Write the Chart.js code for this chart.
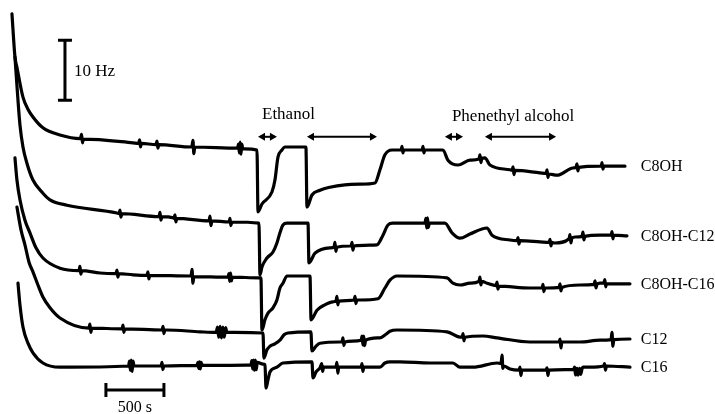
<!DOCTYPE html>
<html>
<head>
<meta charset="utf-8">
<script src="https://cdn.jsdelivr.net/npm/chart.js@4/dist/chart.umd.min.js"></script>
<style>
  body { margin: 0; background: #fff; }
  canvas { display: block; }
</style>
</head>
<body>
<canvas id="qcmChart" width="715" height="414"></canvas>
<script>
// time in s, frequency in Hz (traces stacked, axes hidden)
const traceNames = ["C8OH", "C8OH-C12", "C8OH-C16", "C12", "C16"];

const c8oh = [[0,66.7],[26,59.5],[43,57.8],[95,52.8],[138,50.8],[181,49.5],[267,47.7],[414,46.5],
  [590,45.9],[600,46.6],[608,45.2],[616,45.8],[1043,45.2],
  [1092,45.1],[1100,45.7],[1108,44.5],[1116,45.1],
  [1242,44.9],[1250,45.5],[1258,44.3],[1266,44.9],
  [1550,44.5],[1560,45.6],[1568,43.4],[1576,44.5],
  [1945,44.3],[1953,45.0],[1960,43.5],[1967,45.3],[1974,43.3],[1981,45.0],[1990,44.2],
  [2112,44.0],[2121,33.7],[2155,35.0],[2241,37.0],[2267,39.0],[2293,42.8],[2327,44.0],[2353,44.5],
  [2534,44.5],[2543,34.5],[2586,36.5],[2655,37.3],[2741,37.8],[2870,38.2],[3000,38.3],[3129,38.5],
  [3172,40.7],[3215,43.2],[3276,44.0],
  [3354,44.0],[3362,44.6],[3370,43.5],[3378,44.0],
  [3535,44.0],[3543,44.6],[3551,43.5],[3559,44.0],
  [3715,44.0],[3758,42.3],[3845,41.5],[3948,42.3],
  [4026,42.5],[4034,43.2],[4042,41.9],[4050,42.6],
  [4077,42.7],[4120,41.5],[4293,40.7],
  [4311,40.6],[4319,41.2],[4327,39.9],[4335,40.6],
  [4551,40.2],
  [4604,40.1],[4612,40.7],[4620,39.4],[4628,40.0],
  [4698,39.8],[4836,41.0],
  [4862,41.1],[4870,41.7],[4878,40.5],[4886,41.1],
  [5069,41.3],
  [5078,41.3],[5086,41.9],[5094,40.8],[5102,41.3],
  [5284,41.3]];

const c8ohC12 = [[26,59.5],[52,52.3],[69,48.2],[95,44.5],[129,41.8],[181,39.0],[267,36.8],[328,35.7],[474,34.8],[905,33.5],
  [923,33.4],[931,34.0],[939,32.8],[947,33.4],
  [1268,32.9],[1276,33.6],[1284,32.3],[1292,32.9],
  [1388,32.7],
  [1397,32.6],[1405,33.2],[1413,32.0],[1421,32.6],
  [1699,32.2],[1707,33.0],[1715,31.4],[1723,32.2],
  [1871,32.0],[1879,32.6],[1887,31.4],[1895,32.0],
  [2129,31.8],[2138,23.2],[2155,24.5],[2198,26.0],[2250,27.0],[2284,28.5],[2310,30.2],[2336,31.5],[2371,31.8],
  [2552,31.8],[2560,25.2],[2612,26.8],[2741,27.7],
  [2776,27.8],[2784,28.6],[2792,27.1],[2800,27.8],
  [2914,28.0],
  [2923,28.0],[2931,28.6],[2939,27.3],[2947,28.0],
  [3146,28.2],[3198,29.8],[3241,31.5],[3284,31.8],
  [3560,31.8],[3568,32.6],[3575,31.0],[3582,32.7],[3589,31.1],[3598,31.8],
  [3732,31.8],[3793,30.2],[3862,29.3],[3948,30.0],[4095,31.0],[4138,29.8],[4293,29.0],
  [4354,28.9],[4362,29.4],[4370,28.3],[4378,28.9],
  [4551,28.7],
  [4630,28.6],[4638,29.1],[4646,28.0],[4654,28.6],
  [4681,28.5],
  [4802,29.2],[4810,29.9],[4818,28.5],[4826,29.3],
  [4853,29.5],
  [4914,29.6],[4922,30.3],[4930,29.0],[4938,29.6],
  [5069,29.8],
  [5164,29.8],[5172,30.4],[5180,29.2],[5188,29.8],
  [5301,29.7]];

const c8ohC16 = [[26,42.7],[43,39.0],[69,35.7],[112,32.3],[155,30.2],[207,27.7],[267,26.0],[414,24.3],
  [578,23.9],[586,24.6],[594,23.3],[602,23.9],
  [759,23.5],
  [897,23.4],[905,24.0],[913,22.8],[921,23.4],
  [1043,23.2],
  [1164,23.1],[1172,23.7],[1180,22.5],[1188,23.1],
  [1544,23.0],[1552,24.1],[1560,21.8],[1568,22.9],
  [1862,22.8],[1870,23.4],[1877,22.1],[1884,23.5],[1892,22.2],[1900,22.8],
  [2129,22.7],[2146,22.7],[2155,14.0],[2181,15.7],[2207,16.8],[2250,17.7],[2284,19.0],[2310,21.0],[2336,21.8],[2371,23.0],
  [2569,23.0],[2578,15.7],[2629,17.3],[2698,18.2],[2767,18.7],
  [2793,18.8],[2801,19.6],[2809,18.2],[2817,18.8],
  [2949,19.0],[2957,19.6],[2965,18.4],[2973,19.0],
  [3000,19.0],[3155,19.2],[3215,21.0],[3258,22.3],[3319,23.0],[3750,22.7],[3801,21.8],[3862,21.5],[3948,21.8],
  [4026,22.1],[4034,22.8],[4042,21.5],[4050,22.1],
  [4095,21.8],
  [4173,21.4],[4181,22.0],[4189,20.8],[4197,21.3],
  [4465,21.0],
  [4569,21.0],[4577,21.6],[4585,20.4],[4593,21.0],
  [4612,21.0],
  [4716,21.1],[4724,21.7],[4732,20.5],[4740,21.1],
  [4896,21.5],
  [5018,21.6],[5026,22.2],[5034,21.0],[5042,21.6],
  [5069,21.8],
  [5102,21.8],[5110,22.4],[5118,21.2],[5126,21.7],
  [5327,21.7]];

const c12 = [[43,34.5],[78,30.7],[112,28.2],[147,25.3],[181,23.7],[224,21.5],[267,19.5],[328,17.7],[414,16.0],
  [664,14.3],[672,15.0],[680,13.6],[688,14.3],
  [949,14.2],[957,14.8],[965,13.6],[973,14.2],
  [1294,14.0],[1302,14.6],[1310,13.4],[1318,14.0],
  [1336,14.0],[1621,13.7],
  [1760,13.6],[1772,14.5],[1782,12.8],[1794,14.6],[1806,12.7],[1818,14.5],[1830,12.8],[1842,14.4],[1852,13.6],
  [2164,13.5],[2172,9.3],[2198,10.7],[2224,11.3],[2267,11.7],[2310,12.3],[2345,13.2],[2379,13.5],
  [2577,13.7],[2586,10.5],[2621,11.3],[2655,11.8],[2827,12.0],
  [2845,12.0],[2853,12.7],[2861,11.4],[2869,12.0],
  [3010,12.3],[3018,13.0],[3025,11.5],[3032,13.0],[3040,11.4],[3048,12.3],
  [3172,12.7],[3224,13.3],[3258,13.8],[3319,14.0],[3750,13.7],[3862,12.8],
  [3880,12.8],[3888,13.4],[3896,12.2],[3904,12.8],
  [4060,13.0],[4181,12.7],[4465,12.0],
  [4716,12.0],[4724,12.5],[4732,11.0],[4740,12.0],
  [4896,12.0],[5069,12.3],
  [5164,12.4],[5172,13.6],[5180,11.3],[5188,12.4],
  [5327,12.5]];

const c16 = [[52,21.8],[69,18.2],[95,14.5],[138,11.8],[181,10.2],[267,8.5],[414,7.8],
  [1005,8.0],[1013,8.8],[1020,7.3],[1028,9.0],[1036,7.1],[1044,8.8],[1052,8.0],
  [1285,8.0],[1293,8.6],[1301,7.4],[1309,8.0],
  [1595,8.1],[1603,8.6],[1610,7.6],[1617,8.7],[1624,7.5],[1631,8.6],[1640,8.1],
  [2060,8.2],[2068,8.9],[2075,7.5],[2082,9.0],[2090,7.3],[2098,9.0],[2106,7.4],[2114,8.6],
  [2164,8.3],[2181,8.2],[2190,4.3],[2207,5.7],[2224,7.0],[2284,7.8],[2336,8.5],[2586,8.7],
  [2595,6.0],[2621,7.0],[2655,7.7],
  [2670,8.4],[2678,7.1],[2686,7.8],
  [2793,7.8],[2801,8.6],[2809,6.8],[2817,7.8],
  [3000,7.8],
  [3009,7.8],[3017,8.4],[3025,7.1],[3033,7.8],
  [3172,7.8],[3215,8.5],[3258,8.7],[3345,8.7],[3603,8.5],[3801,8.5],[3862,7.8],[3974,7.8],[4181,8.5],
  [4216,8.4],[4224,9.8],[4232,7.6],[4240,8.0],
  [4293,7.5],
  [4371,7.3],[4379,7.8],[4387,6.4],[4395,7.3],
  [4465,7.3],
  [4604,7.3],[4612,7.7],[4620,6.4],[4628,7.3],
  [4840,7.4],[4850,7.8],[4858,6.5],[4870,7.6],[4880,6.5],[4892,7.6],[4902,6.6],[4915,7.6],[4925,7.8],
  [4982,7.8],
  [5100,8.0],[5108,8.4],[5116,7.3],[5124,8.0],
  [5327,7.8]];

const traces = [c8oh, c8ohC12, c8ohC16, c12, c16];

// exposure intervals (s) marked with double arrows
const ethanolPeriods = [[2121, 2284], [2543, 3146]];
const phenethylPeriods = [[3732, 3888], [4077, 4690]];

// scale bars: 10 Hz and 500 s
const hzBar = { t: 457, from: 52.3, size: 10 };
const timeBar = { from: 810, size: 500, f: 4.0 };

// trace names sit at this time, just right of the traces
const labelTime = 5420;

const serif = '"Liberation Serif", "Times New Roman", serif';

function drawArrow(ctx, x1, x2, y) {
  const head = 7, half = 4;
  ctx.lineWidth = 2;
  ctx.beginPath();
  ctx.moveTo(x1 + 2, y);
  ctx.lineTo(x2 - 2, y);
  ctx.stroke();
  ctx.beginPath();
  ctx.moveTo(x1, y); ctx.lineTo(x1 + head, y - half); ctx.lineTo(x1 + head, y + half); ctx.closePath();
  ctx.moveTo(x2, y); ctx.lineTo(x2 - head, y - half); ctx.lineTo(x2 - head, y + half); ctx.closePath();
  ctx.fill();
}

const annotate = {
  id: 'annotate',
  afterDatasetsDraw(chart) {
    const { ctx, scales: { x, y } } = chart;
    ctx.save();
    ctx.strokeStyle = '#000';
    ctx.fillStyle = '#000';
    ctx.textBaseline = 'middle';

    // 10 Hz bar
    const hx = x.getPixelForValue(hzBar.t);
    const hy1 = y.getPixelForValue(hzBar.from);
    const hy2 = y.getPixelForValue(hzBar.from + hzBar.size);
    ctx.lineWidth = 3;
    ctx.beginPath();
    ctx.moveTo(hx, hy1); ctx.lineTo(hx, hy2);
    ctx.moveTo(hx - 7, hy1); ctx.lineTo(hx + 7, hy1);
    ctx.moveTo(hx - 7, hy2); ctx.lineTo(hx + 7, hy2);
    ctx.stroke();
    ctx.font = '17px ' + serif;
    ctx.textAlign = 'left';
    ctx.fillText('10 Hz', hx + 9, (hy1 + hy2) / 2 + 1);

    // 500 s bar
    const tx1 = x.getPixelForValue(timeBar.from);
    const tx2 = x.getPixelForValue(timeBar.from + timeBar.size);
    const ty = y.getPixelForValue(timeBar.f);
    ctx.lineWidth = 3;
    ctx.beginPath();
    ctx.moveTo(tx1, ty); ctx.lineTo(tx2, ty);
    ctx.moveTo(tx1, ty - 7); ctx.lineTo(tx1, ty + 7);
    ctx.moveTo(tx2, ty - 7); ctx.lineTo(tx2, ty + 7);
    ctx.stroke();
    ctx.font = '16px ' + serif;
    ctx.textAlign = 'center';
    ctx.fillText('500 s', (tx1 + tx2) / 2, ty + 18);

    // exposure arrows and labels
    const ay = y.getPixelForValue(46.2);
    ethanolPeriods.concat(phenethylPeriods).forEach(([a, b]) => {
      drawArrow(ctx, x.getPixelForValue(a), x.getPixelForValue(b), ay);
    });
    ctx.font = '17px ' + serif;
    ctx.textAlign = 'left';
    ctx.fillText('Ethanol', x.getPixelForValue(ethanolPeriods[0][0]) + 4, ay - 22);
    ctx.fillText('Phenethyl alcohol', x.getPixelForValue(phenethylPeriods[0][0]) + 7, ay - 20);

    // trace names at right end
    ctx.font = '16px ' + serif;
    const lx = x.getPixelForValue(labelTime);
    traces.forEach((tr, i) => {
      const last = tr[tr.length - 1];
      ctx.fillText(traceNames[i], lx, y.getPixelForValue(last[1]) + 1);
    });
    ctx.restore();
  }
};

new Chart(document.getElementById('qcmChart'), {
  type: 'line',
  data: {
    datasets: traces.map((tr, i) => ({
      label: traceNames[i],
      data: tr.map(([t, f]) => ({ x: t, y: f })),
      borderColor: '#000',
      borderWidth: 3.2,
      pointRadius: 0,
      cubicInterpolationMode: 'monotone',
      fill: false,
      clip: false,
      borderJoinStyle: 'round',
      borderCapStyle: 'round'
    }))
  },
  options: {
    responsive: false,
    animation: false,
    devicePixelRatio: 1,
    layout: { padding: 0 },
    plugins: { legend: { display: false }, tooltip: { enabled: false } },
    scales: {
      x: { type: 'linear', display: false, min: -103, max: 6060 },
      y: { type: 'linear', display: false, min: 0, max: 69 }
    }
  },
  plugins: [annotate]
});
</script>
</body>
</html>
